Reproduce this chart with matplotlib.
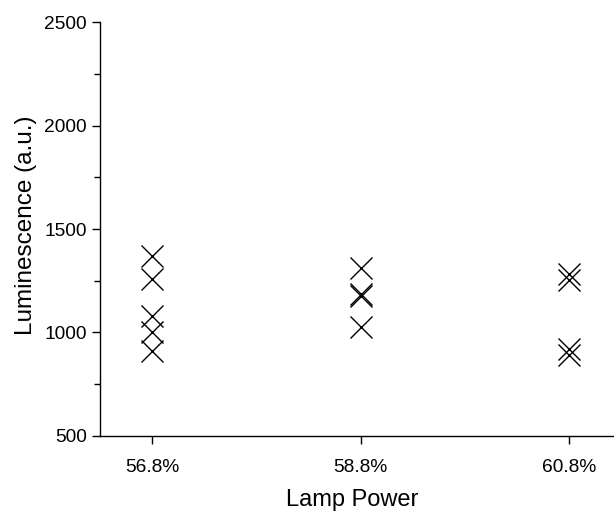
import matplotlib.pyplot as plt
from matplotlib.ticker import MultipleLocator

plt.rcParams['font.family'] = ['Liberation Sans', 'DejaVu Sans']

# lamp power settings (%) and their tick labels
lamp_power = [56.8, 58.8, 60.8]
tick_labels = ['56.8%', '58.8%', '60.8%']

# luminescence readings for each lamp power (a.u.)
lum_568 = [1370, 1260, 1080, 1000, 910]
lum_588 = [1312, 1188, 1178, 1027]
lum_608 = [1283, 1254, 920, 891]

fig = plt.figure(figsize=(6.14, 5.17), dpi=100)
ax = fig.add_axes([0.163, 0.157, 0.837, 0.8])

for p, vals in zip(lamp_power, [lum_568, lum_588, lum_608]):
    ax.plot([p] * len(vals), vals, linestyle='none', marker='x',
            markersize=15.5, markeredgewidth=1.0, color='black')

ax.set_xlim(56.3, 61.23)
ax.set_ylim(500, 2500)
ax.set_xticks(lamp_power)
ax.set_xticklabels(tick_labels)
ax.yaxis.set_major_locator(MultipleLocator(500))
ax.yaxis.set_minor_locator(MultipleLocator(250))

ax.spines['top'].set_visible(False)
ax.spines['right'].set_visible(False)
for s in ['left', 'bottom']:
    ax.spines[s].set_linewidth(1.0)

ax.tick_params(axis='both', which='major', direction='out', length=6,
               width=1.0, labelsize=13.8)
ax.tick_params(axis='y', which='minor', direction='out', length=4, width=1.0)
ax.tick_params(axis='x', pad=11)

ax.set_xlabel('Lamp Power', fontsize=17, labelpad=9)
ax.xaxis.label.set_x(0.49)
ax.set_ylabel('Luminescence (a.u.)', fontsize=17.5, labelpad=5)
ax.yaxis.label.set_y(0.51)

fig.savefig('out.png', dpi=100)
